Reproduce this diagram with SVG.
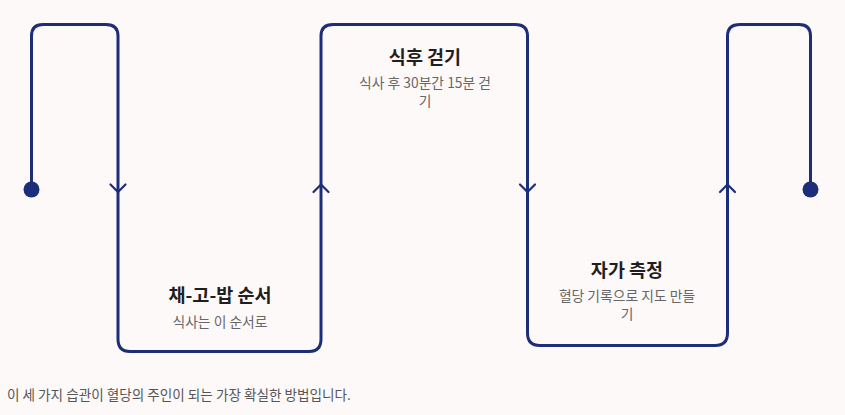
<svg xmlns="http://www.w3.org/2000/svg" width="845" height="415" viewBox="0 0 845 415">
<style>
.ln{fill:none;stroke:#1c2d7a;stroke-width:3;stroke-linejoin:round;stroke-linecap:round}
.ar{fill:none;stroke:#1c2d7a;stroke-width:2.2;stroke-linecap:round;stroke-linejoin:round}
.t{font-family:"Noto Sans CJK KR","Noto Sans",sans-serif;font-weight:700;font-size:18.5px;fill:#1f1f1f;text-anchor:middle}
.s{font-family:"Noto Sans CJK KR","Noto Sans",sans-serif;font-size:13.8px;fill:#666;text-anchor:middle}
.f{font-family:"Noto Sans CJK KR","Noto Sans",sans-serif;font-size:13.6px;fill:#555}
</style>
<rect width="845" height="415" fill="#fdf9f8"/>
<g id="connectors">
<path class="ln" d="M31.5,189 V36 Q31.5,24.5 43,24.5 H106 Q118,24.5 118,36 V339 Q118,351.5 130,351.5 H309 Q321,351.5 321,339 V36 Q321,24.5 333,24.5 H515 Q527.5,24.5 527.5,36 V333 Q527.5,345.5 540,345.5 H715 Q727.5,345.5 727.5,333 V36 Q727.5,24.5 740,24.5 H799 Q810.5,24.5 810.5,36 V189"/>
<circle cx="31.5" cy="189.5" r="8" fill="#1c2d7a"/>
<circle cx="810.5" cy="189.5" r="8" fill="#1c2d7a"/>
<path class="ar" d="M110.5,184.5 L118,192 L125.5,184.5"/>
<path class="ar" d="M313.5,192 L321,184.5 L328.5,192"/>
<path class="ar" d="M520,184.5 L527.5,192 L535,184.5"/>
<path class="ar" d="M720,192 L727.5,184.5 L735,192"/>
</g>
<g id="node-walk">
<text class="t" x="425" y="64">식후 걷기</text>
<text class="s" x="425" y="88">식사 후 30분간 15분 걷<tspan x="425" dy="17.5">기</tspan></text>
</g>
<g id="node-order">
<text class="t" x="220" y="302">채-고-밥 순서</text>
<text class="s" x="220" y="327">식사는 이 순서로</text>
</g>
<g id="node-measure">
<text class="t" x="627" y="277">자가 측정</text>
<text class="s" x="627" y="301">혈당 기록으로 지도 만들<tspan x="627" dy="17.5">기</tspan></text>
</g>
<g id="footer">
<text class="f" x="7" y="400">이 세 가지 습관이 혈당의 주인이 되는 가장 확실한 방법입니다.</text>
</g>
</svg>
